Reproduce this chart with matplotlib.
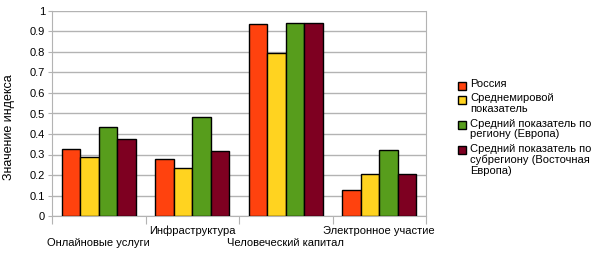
import matplotlib
matplotlib.use('Agg')
import matplotlib.pyplot as plt
import matplotlib.transforms as mtransforms
from matplotlib.patches import Rectangle
import numpy as np

plt.rcParams['font.family'] = ['Liberation Sans', 'DejaVu Sans']

categories = ['Онлайновые услуги', 'Инфраструктура', 'Человеческий капитал', 'Электронное участие']
series = ['Россия', 'Среднемировой\nпоказатель', 'Средний показатель по\nрегиону (Европа)',
          'Средний показатель по\nсубрегиону (Восточная\nЕвропа)']
russia = [0.327, 0.276, 0.936, 0.126]
world = [0.288, 0.234, 0.795, 0.204]
europe = [0.434, 0.483, 0.941, 0.321]
east_europe = [0.375, 0.317, 0.941, 0.204]
colors = ['#FF420E', '#FFD320', '#579D1C', '#7E0021']

W, H = 595, 254
fig = plt.figure(figsize=(W/100, H/100), dpi=100)
ax = fig.add_axes([52/W, 38/H, 374/W, 205/H])

x = np.arange(len(categories))
w = 0.197
for i, vals in enumerate([russia, world, europe, east_europe]):
    ax.bar(x + (i - 1.5) * w, vals, w, color=colors[i], edgecolor='black', linewidth=1,
           label=series[i], zorder=3)

ax.set_xlim(-0.5, 3.5)
ax.set_ylim(0, 1)
ax.set_yticks(np.arange(0, 1.01, 0.1))
ax.set_yticklabels(['0', '0.1', '0.2', '0.3', '0.4', '0.5', '0.6', '0.7', '0.8', '0.9', '1'])
ax.yaxis.grid(True, color='#b3b3b3', linewidth=1, zorder=0)
ax.spines['top'].set_visible(False)
for s in ['left', 'bottom', 'right']:
    ax.spines[s].set_color('#b3b3b3')
ax.tick_params(axis='y', length=3, color='#b3b3b3', labelsize=8, pad=2)
ax.set_xticks(np.arange(-0.5, 3.6, 1))
ax.set_xticklabels([])
ax.tick_params(axis='x', length=6, color='#b3b3b3', direction='out')

# staggered category labels
trans = mtransforms.blended_transform_factory(ax.transData, ax.transAxes)
for i, c in enumerate(categories):
    off = -15 if i % 2 == 1 else -27
    ax.annotate(c, (x[i], 0), xycoords=trans, xytext=(0, off), textcoords='offset pixels',
                ha='center', va='center', fontsize=8)

fig.text(9/W, 0.5, 'Значение индекса', rotation=90, ha='center', va='center', fontsize=9)

# legend, drawn by hand so the swatch sits on the first line
row_y = [85.5, 99.7, 125, 150.3]
for i, lab in enumerate(series):
    yc = row_y[i]
    fig.patches.append(Rectangle((458/W, 1 - (yc + 4)/H), 8.5/W, 8/H, transform=fig.transFigure,
                                 facecolor=colors[i], edgecolor='black', linewidth=1))
    fig.text(470/W, 1 - (yc - 6.5)/H, lab, ha='left', va='top', fontsize=8, linespacing=1.1)

fig.savefig('out.png', dpi=100)
